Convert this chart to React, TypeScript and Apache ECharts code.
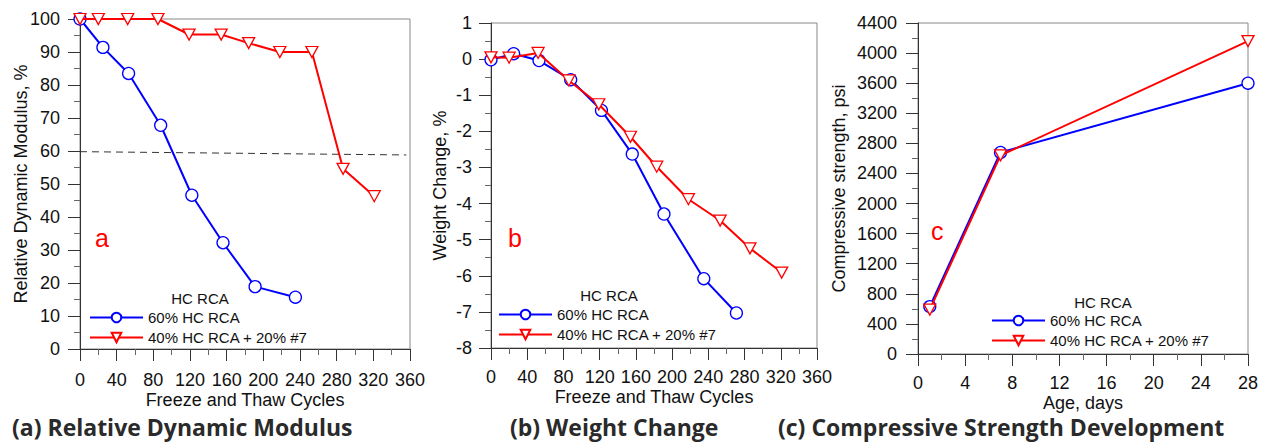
import React, { useEffect, useRef } from "react";
import * as echarts from "echarts";

// ---- Data ----
const name60 = "60% HC RCA";
const name40 = "40% HC RCA + 20% #7";

// (a) Relative dynamic modulus
const rdmCycles60 = [0, 25, 53, 88, 122, 156, 191, 235];
const rdm60 = [100, 91.4, 83.5, 67.8, 46.6, 32.2, 18.9, 15.7];
const rdmCycles40 = [0, 20, 52, 85, 119, 154, 184, 218, 253, 287, 321];
const rdm40 = [100, 100, 100, 100, 95.3, 95.3, 92.7, 90, 90, 54.6, 46.3];
const limitCycles = [0, 356];
const limitValues = [59.8, 58.8];

// (b) Weight change
const wcCycles60 = [0, 25, 53, 88, 122, 156, 191, 235, 271];
const wc60 = [-0.02, 0.15, -0.04, -0.57, -1.42, -2.63, -4.29, -6.08, -7.03];
const wcCycles40 = [0, 20, 52, 86, 119, 154, 183, 218, 253, 286, 321];
const wc40 = [0.05, 0.04, 0.17, -0.59, -1.25, -2.15, -2.98, -3.88, -4.47, -5.24, -5.91];

// (c) Compressive strength
const ages = [1, 7, 28];
const cs60 = [630, 2680, 3600];
const cs40 = [590, 2640, 4160];

const captions = [
  "(a) Relative Dynamic Modulus",
  "(b) Weight Change",
  "(c) Compressive Strength Development",
];
const axisTitles = {
  aX: "Freeze and Thaw Cycles",
  aY: "Relative Dynamic Modulus, %",
  bX: "Freeze and Thaw Cycles",
  bY: "Weight Change, %",
  cX: "Age, days",
  cY: "Compressive strength, psi",
};

const BLUE = "#0000ff";
const RED = "#ff0000";
const FONT = "'Liberation Sans', Arial, sans-serif";
const TRI = "path://M0,0 L12,0 L6,10.4 Z";

const zip = (xs: number[], ys: number[]) => xs.map((x, i) => [x, ys[i]]);

function axis(
  gridIndex: number,
  min: number,
  max: number,
  interval: number,
  name: string,
  nameGap: number,
  labelMargin: number
) {
  return {
    type: "value",
    gridIndex,
    min,
    max,
    interval,
    name,
    nameLocation: "middle",
    nameGap,
    nameMoveOverlap: false,
    nameTextStyle: { fontFamily: FONT, fontSize: 18, color: "#111" },
    axisLine: { show: true, onZero: false, lineStyle: { color: "#333", width: 1 } },
    axisTick: { show: true, length: 12, lineStyle: { color: "#333", width: 1 } },
    minorTick: { show: true, splitNumber: 2, length: 6, lineStyle: { color: "#666", width: 1 } },
    splitLine: { show: false },
    axisLabel: {
      fontFamily: FONT,
      fontSize: 18,
      color: "#111",
      margin: labelMargin,
      showMaxLabel: true,
      showMinLabel: true,
      formatter: (v: number) => String(v),
    },
  };
}

function s60(xi: number, xs: number[], ys: number[]) {
  return {
    type: "line",
    name: name60,
    xAxisIndex: xi,
    yAxisIndex: xi,
    data: zip(xs, ys),
    symbol: "circle",
    symbolSize: 12,
    lineStyle: { color: BLUE, width: 2 },
    itemStyle: { color: "#fff", borderColor: BLUE, borderWidth: 1.3 },
    z: 3,
  };
}
function s40(xi: number, xs: number[], ys: number[]) {
  return {
    type: "line",
    name: name40,
    xAxisIndex: xi,
    yAxisIndex: xi,
    data: zip(xs, ys),
    symbol: TRI,
    symbolSize: [12, 11],
    lineStyle: { color: RED, width: 2 },
    itemStyle: { color: "#fff", borderColor: RED, borderWidth: 1.3 },
    z: 4,
  };
}

function legend(left: number, top: number) {
  return {
    data: [name60, name40],
    orient: "vertical",
    left,
    top,
    padding: 0,
    itemWidth: 53,
    itemHeight: 12,
    itemGap: 5,
    selectedMode: false,
    textStyle: { fontFamily: FONT, fontSize: 15, color: "#111" },
  };
}

export default function App() {
  const ref = useRef<HTMLDivElement>(null);
  useEffect(() => {
    document.body.style.margin = "0";
    const chart = echarts.init(ref.current!, null, { renderer: "svg" });
    const gridBase = { show: true, borderColor: "#888", borderWidth: 1, backgroundColor: "transparent", containLabel: false };
    const capFont = `bold 23px 'Open Sans', sans-serif`;
    const option: any = {
      animation: false,
      grid: [
        { ...gridBase, left: 80, top: 19, width: 330, height: 330 },
        { ...gridBase, left: 491, top: 23, width: 326, height: 325 },
        { ...gridBase, left: 918, top: 23, width: 330, height: 331 },
      ],
      xAxis: [
        axis(0, 0, 360, 40, axisTitles.aX, 42, 22),
        axis(1, 0, 360, 40, axisTitles.bX, 40, 20),
        axis(2, 0, 28, 4, axisTitles.cX, 40, 20),
      ],
      yAxis: [
        axis(0, 0, 100, 10, axisTitles.aY, 50, 20),
        axis(1, -8, 1, 1, axisTitles.bY, 42, 19),
        axis(2, 0, 4400, 400, axisTitles.cY, 70, 21),
      ],
      legend: [legend(89, 310), legend(498, 307), legend(991, 313)],
      series: [
        {
          type: "line",
          name: "limit",
          xAxisIndex: 0,
          yAxisIndex: 0,
          data: zip(limitCycles, limitValues),
          symbol: "none",
          lineStyle: { color: "#333", width: 1, type: [7, 5] },
          z: 2,
        },
        s60(0, rdmCycles60, rdm60),
        s40(0, rdmCycles40, rdm40),
        s60(1, wcCycles60, wc60),
        s40(1, wcCycles40, wc40),
        s60(2, ages, cs60),
        s40(2, ages, cs40),
      ],
      graphic: [
        { type: "text", left: 95, top: 225, style: { text: "a", font: `25px ${FONT}`, fill: RED } },
        { type: "text", left: 508, top: 225, style: { text: "b", font: `25px ${FONT}`, fill: RED } },
        { type: "text", left: 931, top: 218, style: { text: "c", font: `25px ${FONT}`, fill: RED } },
        { type: "text", x: 200, y: 298, style: { text: "HC RCA", font: `15px ${FONT}`, fill: "#111", align: "center", verticalAlign: "middle" } },
        { type: "text", x: 609, y: 295, style: { text: "HC RCA", font: `15px ${FONT}`, fill: "#111", align: "center", verticalAlign: "middle" } },
        { type: "text", x: 1103, y: 302, style: { text: "HC RCA", font: `15px ${FONT}`, fill: "#111", align: "center", verticalAlign: "middle" } },
        { type: "text", x: 12, y: 427, style: { text: captions[0], font: capFont, fill: "#2a2a2a", verticalAlign: "middle" } },
        { type: "text", x: 510, y: 427, style: { text: captions[1], font: capFont, fill: "#2a2a2a", verticalAlign: "middle" } },
        { type: "text", x: 778, y: 427, style: { text: captions[2], font: capFont, fill: "#2a2a2a", verticalAlign: "middle" } },
      ],
    };
    chart.setOption(option);
    return () => chart.dispose();
  }, []);
  return <div ref={ref} style={{ width: 1267, height: 443 }} />;
}
